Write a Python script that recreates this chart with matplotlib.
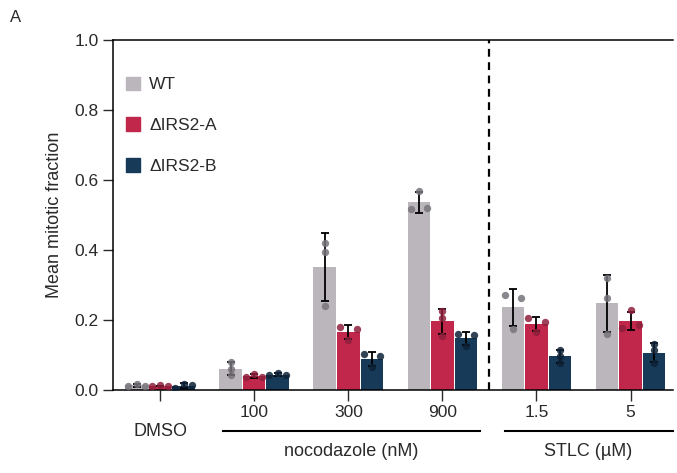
import numpy as np
import matplotlib
matplotlib.use("Agg")
import matplotlib.pyplot as plt
from matplotlib.patches import Patch

plt.rcParams['font.family'] = ['Liberation Sans', 'DejaVu Sans']
plt.rcParams['text.color'] = '#2a2a2a'
plt.rcParams['axes.labelcolor'] = '#2a2a2a'
plt.rcParams['xtick.color'] = '#2a2a2a'
plt.rcParams['ytick.color'] = '#2a2a2a'

# conditions (x groups)
conditions = ['DMSO', '100', '300', '900', '1.5', '5']
series = ['WT', 'ΔIRS2-A', 'ΔIRS2-B']

# replicate values per condition, listed left to right as drawn
wt_points = [
    [0.011, 0.018, 0.011],
    [0.081, 0.060, 0.043],
    [0.419, 0.394, 0.240],
    [0.518, 0.569, 0.520],
    [0.270, 0.174, 0.264],
    [0.320, 0.263, 0.159],
]
a_points = [
    [0.011, 0.013, 0.011],
    [0.036, 0.047, 0.038],
    [0.180, 0.143, 0.174],
    [0.226, 0.207, 0.155],
    [0.207, 0.166, 0.194],
    [0.178, 0.228, 0.186],
]
b_points = [
    [0.005, 0.017, 0.015],
    [0.042, 0.048, 0.042],
    [0.103, 0.066, 0.098],
    [0.161, 0.127, 0.156],
    [0.114, 0.097, 0.078],
    [0.130, 0.114, 0.076],
]

bar_colors = ['#bab6bb', '#c1264b', '#173a59']
dot_colors = ['#76737a', '#8e1f3c', '#0d2236']


def swarm_offsets(vals, thresh=0.016, step=0.088):
    vals = np.asarray(vals)
    close = [i for i in range(len(vals))
             if any(abs(vals[i] - vals[j]) < thresh for j in range(len(vals)) if j != i)]
    offs = np.zeros(len(vals))
    if len(close) == 2:
        offs[close[0]], offs[close[1]] = -step, step
    elif len(close) == 3:
        offs[close] = [-step, 0, step]
    return offs


fig = plt.figure(figsize=(6.77, 4.73), dpi=100)
ax = fig.add_axes([0.167, 0.1755, 0.827, 0.74])

x = np.arange(len(conditions))
width = 0.24
shifts = [-0.25, 0.0, 0.25]

for k, pts in enumerate([wt_points, a_points, b_points]):
    arr = np.array(pts)
    means = arr.mean(axis=1)
    sds = arr.std(axis=1, ddof=1)
    xpos = x + shifts[k]
    ax.bar(xpos, means, width=width, color=bar_colors[k], zorder=2, label=series[k])
    ax.errorbar(xpos, means, yerr=sds, fmt='none', ecolor='black',
                elinewidth=1.3, capsize=3, capthick=1.3, zorder=3)
    for i, row in enumerate(pts):
        offs = swarm_offsets(row)
        ax.scatter(xpos[i] + offs, row, s=28, color=dot_colors[k],
                   alpha=0.85, linewidths=0, zorder=4)

ax.axvline(3.5, color='black', linestyle=(0, (3.5, 2.5)), linewidth=1.6, zorder=1)

ax.set_xlim(-0.5, 5.45)
ax.set_ylim(0, 1.0)
ax.set_yticks(np.arange(0, 1.01, 0.2))
ax.set_yticklabels([f'{v:.1f}' for v in np.arange(0, 1.01, 0.2)])
ax.set_xticks(x)
ax.set_xticklabels([''] + conditions[1:])
ax.tick_params(axis='y', length=7, width=1, labelsize=12.5)
ax.tick_params(axis='x', length=8, width=1, labelsize=12.5, pad=3)
ax.set_ylabel('Mean mitotic fraction', fontsize=13, labelpad=8)

ax.spines['right'].set_visible(False)
for s in ['left', 'bottom', 'top']:
    ax.spines[s].set_linewidth(1.1)

# group annotations below the axis
trans = ax.get_xaxis_transform()
ax.text(0, -0.12, 'DMSO', transform=trans, ha='center', va='center', fontsize=13)
ax.plot([0.67, 3.40], [-0.116, -0.116], transform=trans, color='black',
        linewidth=1.5, clip_on=False)
ax.text(2.03, -0.177, 'nocodazole (nM)', transform=trans, ha='center', va='center', fontsize=13)
ax.plot([3.67, 5.45], [-0.116, -0.116], transform=trans, color='black',
        linewidth=1.5, clip_on=False)
ax.text(4.55, -0.177, 'STLC (µM)', transform=trans, ha='center', va='center', fontsize=13)

handles = [Patch(color=c, label=l) for c, l in zip(bar_colors, series)]
ax.legend(handles=handles, loc='upper left', bbox_to_anchor=(-0.004, 0.94),
          frameon=False, fontsize=12.5, handlelength=0.8, handleheight=0.8,
          labelspacing=1.45, handletextpad=0.5)

fig.text(0.014, 0.962, 'A', fontsize=12, ha='left', va='center')

fig.savefig('out.png', dpi=100)
